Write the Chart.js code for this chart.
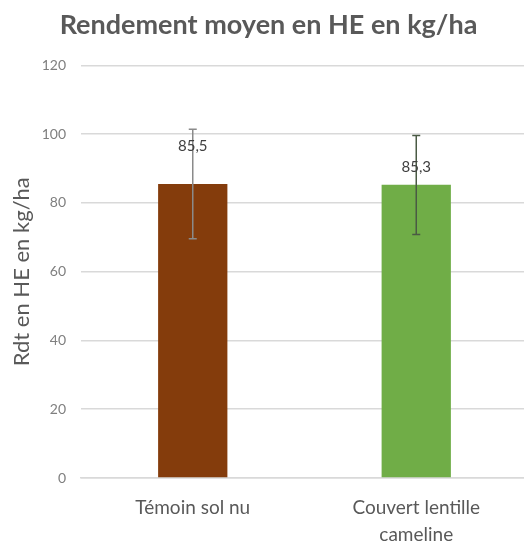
<!DOCTYPE html>
<html><head><meta charset="utf-8">
<script src="https://cdn.jsdelivr.net/npm/chart.js@4.4.1/dist/chart.umd.min.js"></script>
<style>html,body{margin:0;padding:0;background:#fff;overflow:hidden;width:524px;height:543px}#wrap{width:528px;height:543px;position:relative}</style>
</head><body><div id="wrap"><canvas id="c" width="528" height="543"></canvas></div>
<script>
const categories = ["Témoin sol nu", ["Couvert lentille", "cameline"]];
const values = [85.5, 85.3];
const errPlus = [15.9, 14.3];
const errMinus = [15.9, 14.5];
const valueLabels = ["85,5", "85,3"];
const barColors = ["#843C0C", "#70AD47"];
const errColors = ["#8a8a8a", "#4a5a44"];
const labelOffsets = [38, 18];
const yTicks = [0, 20, 40, 60, 80, 100, 120];

const FONT = "Lato, 'Open Sans', sans-serif";

const errorBarPlugin = {
  id: 'errbars',
  afterDatasetsDraw(chart) {
    const ctx = chart.ctx;
    const meta = chart.getDatasetMeta(0);
    const ys = chart.scales.y;
    meta.data.forEach((bar, i) => {
      const x = bar.x;
      const yTop = ys.getPixelForValue(values[i] + errPlus[i]);
      const yBot = ys.getPixelForValue(values[i] - errMinus[i]);
      ctx.save();
      ctx.strokeStyle = errColors[i];
      ctx.lineWidth = 1.5;
      ctx.beginPath();
      ctx.moveTo(x, yTop); ctx.lineTo(x, yBot);
      ctx.moveTo(x - 4, yTop); ctx.lineTo(x + 4, yTop);
      ctx.moveTo(x - 4, yBot); ctx.lineTo(x + 4, yBot);
      ctx.stroke();
      ctx.fillStyle = '#404040';
      ctx.font = "15px " + FONT;
      ctx.textAlign = 'center';
      ctx.textBaseline = 'middle';
      ctx.fillText(valueLabels[i], x, bar.y - labelOffsets[i]);
      ctx.restore();
    });
  }
};

new Chart(document.getElementById('c'), {
  type: 'bar',
  data: {
    labels: categories,
    datasets: [{
      data: values,
      backgroundColor: barColors,
      borderWidth: 0,
      barPercentage: 0.31,
      categoryPercentage: 1.0
    }]
  },
  options: {
    responsive: false,
    animation: false,
    layout: { padding: { left: 9, right: 0, top: 0, bottom: 0 } },
    plugins: {
      legend: { display: false },
      tooltip: { enabled: false },
      title: {
        display: true,
        text: 'Rendement moyen en HE en kg/ha',
        color: '#595959',
        font: { family: FONT, size: 27, weight: 'bold' },
        padding: { top: 9, bottom: 24 },
        align: 'center'
      }
    },
    scales: {
      y: {
        min: 0, max: 120,
        afterBuildTicks(scale) { scale.ticks = yTicks.map(v => ({ value: v })); },
        ticks: { color: '#7f7f7f', font: { family: FONT, size: 14 }, padding: 15 },
        grid: { color: '#d9d9d9', lineWidth: 1.5, drawTicks: false },
        border: { display: false },
        title: {
          display: true, text: 'Rdt en HE en kg/ha', color: '#595959',
          font: { family: FONT, size: 22 }, padding: { top: 0, bottom: 8 }
        },
        afterFit(scale) { scale.width = 72; }
      },
      x: {
        ticks: { color: '#595959', font: { family: FONT, size: 19, lineHeight: 1.42 }, padding: 16, maxRotation: 0 },
        grid: { display: false, drawTicks: false },
        border: { color: '#d9d9d9', width: 1.5 },
        afterFit(scale) { scale.height = 65; }
      }
    }
  },
  plugins: [errorBarPlugin]
});
</script></body></html>
